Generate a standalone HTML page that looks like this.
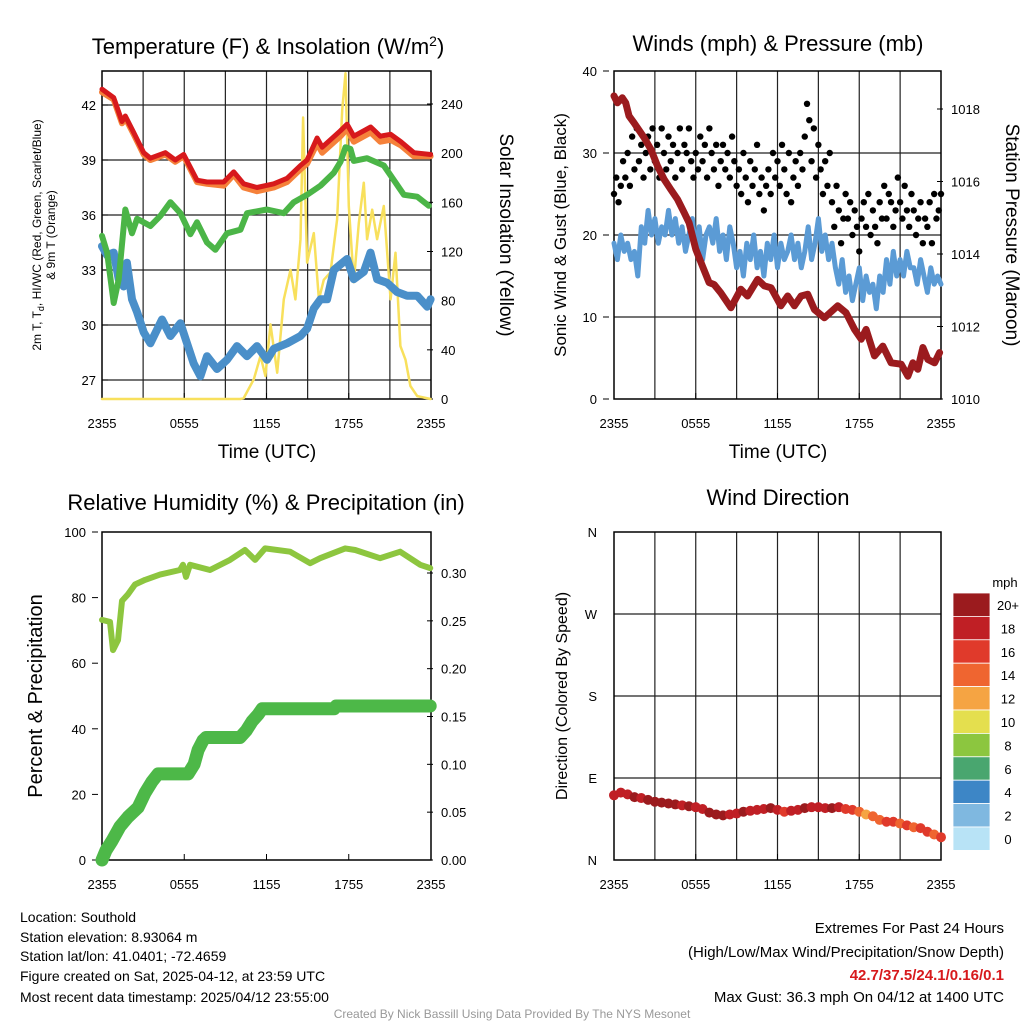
<!DOCTYPE html>
<html><head><meta charset="utf-8"><style>
html,body{margin:0;padding:0;background:#fff;}
svg{display:block;font-family:"Liberation Sans",sans-serif;}
</style></head><body>
<svg id="c" width="1024" height="1024" viewBox="0 0 1024 1024" xmlns="http://www.w3.org/2000/svg">
<g id="g"></g>
<text x="268" y="54" font-size="22" text-anchor="middle">Temperature (F) &amp; Insolation (W/m<tspan dy="-8" font-size="14">2</tspan><tspan dy="8">)</tspan></text>
<text x="778" y="51" font-size="22" text-anchor="middle">Winds (mph) &amp; Pressure (mb)</text>
<text x="266" y="510" font-size="22" text-anchor="middle">Relative Humidity (%) &amp; Precipitation (in)</text>
<text x="778" y="505" font-size="22" text-anchor="middle">Wind Direction</text>
<text transform="translate(41,235) rotate(-90)" font-size="12" text-anchor="middle">2m T, T<tspan dy="3" font-size="9">d</tspan><tspan dy="-3">, HI/WC (Red, Green, Scarlet/Blue)</tspan></text>
<text transform="translate(55,235) rotate(-90)" font-size="12" text-anchor="middle">&amp; 9m T (Orange)</text>
<text transform="translate(500,235) rotate(90)" font-size="19" text-anchor="middle">Solar Insolation (Yellow)</text>
<text x="267" y="458" font-size="19" text-anchor="middle">Time (UTC)</text>
<text x="778" y="458" font-size="19" text-anchor="middle">Time (UTC)</text>
<text transform="translate(566,235) rotate(-90)" font-size="17" text-anchor="middle">Sonic Wind &amp; Gust (Blue, Black)</text>
<text transform="translate(1006,235) rotate(90)" font-size="19" text-anchor="middle">Station Pressure (Maroon)</text>
<text transform="translate(42,696) rotate(-90)" font-size="20" text-anchor="middle">Percent &amp; Precipitation</text>
<text transform="translate(567,696) rotate(-90)" font-size="16" text-anchor="middle">Direction (Colored By Speed)</text>
<g font-size="14">
<text x="20" y="922">Location: Southold</text>
<text x="20" y="942">Station elevation: 8.93064 m</text>
<text x="20" y="961">Station lat/lon: 41.0401; -72.4659</text>
<text x="20" y="981">Figure created on Sat, 2025-04-12, at 23:59 UTC</text>
<text x="20" y="1002">Most recent data timestamp: 2025/04/12 23:55:00</text>
</g>
<g font-size="15" text-anchor="end">
<text x="1004" y="933">Extremes For Past 24 Hours</text>
<text x="1004" y="957">(High/Low/Max Wind/Precipitation/Snow Depth)</text>
<text x="1004" y="980" fill="#d7191c" font-weight="bold">42.7/37.5/24.1/0.16/0.1</text>
<text x="1004" y="1002">Max Gust: 36.3 mph On 04/12 at 1400 UTC</text>
</g>
<text x="512" y="1018" font-size="12" fill="#999" text-anchor="middle">Created By Nick Bassill Using Data Provided By The NYS Mesonet</text>
</svg>
<script>
// ---- Temperature panel data (hours since 2355 UTC) ----
const tempHours=[0,0.85,1.46,1.7,2.31,3.04,3.53,4.62,5.35,5.96,6.93,7.66,8.88,9.61,10.34,11.31,12.53,13.5,14.48,14.96,15.69,16.06,17.4,17.88,18.37,19.6,20.3,21.05,21.8,22.75,23.97];
const tempVals=[42.86,42.4,41.1,41.4,40.5,39.4,39.1,39.4,39.0,39.3,37.9,37.8,37.8,38.35,37.7,37.5,37.7,38.0,38.7,39.0,40.2,39.7,40.6,40.95,40.3,40.8,40.3,40.4,40.0,39.4,39.3];
const temp9mVals=[42.7,42.3,41.0,41.3,40.4,39.3,39.0,39.3,38.9,39.2,37.8,37.7,37.6,38.2,37.5,37.3,37.5,37.8,38.5,38.8,39.9,39.4,40.3,40.7,40.0,40.5,40.0,40.1,39.8,39.2,39.2];
const dewHours=[0,0.37,0.85,1.22,1.7,2.19,2.56,3.53,4.26,4.99,5.72,6.45,6.93,7.66,8.27,9.12,10.1,10.58,12.04,13.26,13.99,14.96,15.94,16.91,17.4,17.76,18.13,18.37,19.34,20.56,21.29,22.02,22.99,23.84];
const dewVals=[34.86,33.95,31.2,32.5,36.3,35.0,35.8,35.4,35.95,36.7,36.1,34.95,35.6,34.5,34.1,35.0,35.2,36.1,36.3,36.1,36.7,37.1,37.6,38.3,38.9,39.7,39.6,38.95,39.1,38.7,37.9,37.1,37.0,36.5];
const wcHours=[0,0.37,0.85,1.22,1.58,1.82,2.19,2.56,3.04,3.53,4.38,4.99,5.72,6.2,6.69,7.18,7.66,8.39,9.12,9.85,10.58,11.31,12.04,12.53,13.5,14.48,14.96,15.45,15.94,16.42,16.91,17.88,18.37,19.1,19.59,20.07,20.8,21.53,22.26,22.99,23.72,23.97];
const wcVals=[34.3,33.8,33.95,32.5,32.1,33.4,31.4,30.7,29.6,29.0,30.3,29.4,30.1,29.0,27.9,27.2,28.3,27.6,28.1,28.85,28.3,28.85,28.1,28.7,29.0,29.4,29.8,30.9,31.4,31.4,33.0,33.6,32.5,32.9,33.95,32.5,32.3,31.8,31.6,31.6,31.0,31.4];
const solarHours=[0,10.1,10.34,11.07,11.56,11.92,12.29,12.78,13.26,13.75,14.11,14.48,14.67,14.96,15.45,15.82,16.18,16.67,17.15,17.52,17.76,18.0,18.37,18.73,19.1,19.34,19.71,20.07,20.56,21.05,21.41,21.77,22.14,22.5,22.99,23.97];
const solarVals=[0,0,0.7,16,35,18.7,60.7,21.4,81,105,81,130,229,111,135,81,97,103,146,235,265,157,95,143,176,130,154,130,157,81,119,43,32,10.6,2.4,0];
// ---- Wind panel data ----
const presHours=[0,0.25,0.61,0.86,1.1,1.47,1.96,2.21,2.7,3.19,3.68,4.17,4.66,5.15,5.51,6.0,6.49,6.98,7.35,7.84,8.58,9.31,9.8,10.54,11.03,11.52,12.25,12.75,13.24,13.73,14.22,14.71,15.44,16.42,17.03,17.65,18.14,18.5,19.12,19.73,20.34,21.08,21.57,21.94,22.3,22.67,23.04,23.53,23.9];
const presVals=[1018.36,1018.17,1018.31,1018.17,1017.81,1017.62,1017.35,1017.21,1016.89,1016.43,1016.06,1015.78,1015.51,1015.14,1014.86,1014.13,1013.67,1013.21,1013.16,1012.93,1012.52,1013.03,1012.84,1013.3,1013.12,1013.07,1012.57,1012.84,1012.57,1012.84,1012.89,1012.47,1012.24,1012.57,1012.38,1011.92,1011.65,1011.92,1011.19,1011.46,1011.0,1010.96,1010.63,1011.0,1010.82,1011.42,1011.09,1011.0,1011.28];
// sonic wind every 15 min
const windVals=[19,17,20,18,19,17,18,15,21,19,23,20,22,19,21,20,23,20,22,19,21,18,20,22,18,21,17,20,21,19,22,18,20,17,21,19,16,18,15,19,17,20,16,18,15,19,17,20,16,19,17,18,20,17,19,16,18,21,17,19,22,18,20,17,19,16,14,17,13,15,12,14,16,12,15,13,14,11,15,13,17,14,18,15,17,15,18,16,16,14,17,15,13,16,14,15,14];
const gustVals=[25,27,24,26,29,27,30,26,32,28,33,29,31,27,30,32,28,33,29,31,27,33,30,28,32,29,31,27,30,33,28,31,30,33,29,27,30,28,32,29,31,27,33,30,28,31,26,29,31,28,30,27,32,29,26,28,25,30,27,24,29,26,28,31,25,27,23,26,28,25,30,27,29,26,31,28,25,30,24,27,29,26,30,28,32,36,34,29,33,27,31,28,25,29,26,30,24,21,26,23,19,22,25,22,24,20,23,21,18,22,24,21,25,20,23,21,19,24,22,26,22,25,24,21,23,27,24,22,26,23,21,25,23,20,22,24,19,22,21,24,19,25,22,23,25];
// ---- RH / precip data ----
const rhHours=[0,0.58,0.8,1.17,1.46,1.9,2.41,3.14,4.23,5.69,5.91,6.13,6.42,7.88,9.34,10.43,11.17,11.9,13.72,15.18,15.91,17.74,18.47,20.29,21.75,23.21,23.94];
const rhVals=[73.2,72.6,64,67,79,81,84,85.4,87,88.4,90,86.3,90,88.4,91.5,94.5,91.5,95,94,90.5,92,95,94.5,92,94,90,89];
const pcpHours=[0,0.29,0.73,1.31,1.9,2.63,3.14,3.65,4.09,6.28,6.72,7.01,7.37,7.59,10.07,10.51,10.95,11.39,11.68,16.93,17.08,23.94];
const pcpVals=[0,0.01,0.02,0.035,0.045,0.055,0.07,0.082,0.09,0.09,0.10,0.115,0.125,0.128,0.128,0.135,0.145,0.152,0.158,0.158,0.161,0.161];
// ---- Wind direction (degrees) and speed (mph) every 30 min ----
const dirVals=[71,74,72,69,68,66,64,63,62,61,60,59,58,56,52,50,49,50,51,53,54,55,56,57,55,53,54,55,57,58,58,57,57,58,56,55,53,50,48,44,42,42,40,38,36,35,31,28,25];
const dirSpeeds=[18,19,18,20,19,21,20,22,20,21,19,20,19,18,20,21,20,19,18,20,19,18,19,20,19,17,18,19,20,18,19,18,20,19,17,16,14,13,15,14,16,17,15,16,15,17,16,15,16];
const cbLabels=["20+","18","16","14","12","10","8","6","4","2","0"];
const cbColors=["#9b1b1e","#c01f25","#e03a2b","#ef6530","#f5a443","#e4df4e","#8cc63f","#49a66f","#3d86c6","#7fb8e0","#b8e3f6"];
const xTickLabels=["2355","0555","1155","1755","2355"];

const NS="http://www.w3.org/2000/svg";
const G=document.getElementById('g');
function mk(tag,attrs,parent){const e=document.createElementNS(NS,tag);for(const k in attrs)e.setAttribute(k,attrs[k]);(parent||G).appendChild(e);return e;}
function xs(x0,x1){return h=>x0+(x1-x0)*h/24;}
function lin(v0,p0,v1,p1){return v=>p0+(v-v0)*(p1-p0)/(v1-v0);}

function frame(name,x0,x1,yT,yB,vgrid,hys){
  for(const y of hys){const l=mk('line',{x1:x0,x2:x1,y1:y,y2:y,stroke:'#222','stroke-width':1.2});
    
    }
  if(vgrid)for(let i=1;i<8;i++){const x=x0+(x1-x0)*i/8;const l=mk('line',{x1:x,x2:x,y1:yT,y2:yB,stroke:'#222','stroke-width':1.2});
    
    }
  const r=mk('rect',{x:x0,y:yT,width:x1-x0,height:yB-yT,fill:'none',stroke:'#000','stroke-width':1.5});
  
  
  xTickLabels.forEach((s,i)=>{const x=x0+(x1-x0)*i/4;
    const t=mk('text',{x:x,y:yB+29,'font-size':13,'text-anchor':'middle'});t.textContent=s;
    
    
    mk('line',{x1:x,x2:x,y1:yB,y2:yB-6,stroke:'#000'});});
}
function yTicks(name,vals,fmt,sc,x,anchor,dir){
  for(const v of vals){const y=sc(v);
    const t=mk('text',{x:x,y:y+5,'font-size':13,'text-anchor':anchor});t.textContent=fmt(v);
    
    
    mk('line',{x1:x-(anchor==='end'?-6:8),x2:x-(anchor==='end'?-6:8)+dir*6,y1:y,y2:y,stroke:'#000'});}
}
function line(name,hours,vals,X,Y,color,w){
  const d=hours.map((h,i)=>(i?'L':'M')+X(h).toFixed(1)+' '+Y(vals[i]).toFixed(1)).join('');
  const p=mk('path',{d:d,fill:'none',stroke:color,'stroke-width':w,'stroke-linejoin':'round','stroke-linecap':'round'});
  
  
}

// Panel 1
{const X=xs(102,431),T=lin(27,380,42,105),S=lin(0,399,240,104);
 frame('temp',102,431,71,399,true,[27,30,33,36,39,42].map(T));
 yTicks('temp-y',[27,30,33,36,39,42],v=>v,T,96,'end',1);
 yTicks('solar-y',[0,40,80,120,160,200,240],v=>v,S,441,'start',-1);
 line('solar-insolation-line',solarHours,solarVals,X,S,'#f8e05c',2.5);
 line('wind-chill-line',wcHours,wcVals,X,T,'#4a8fc9',8);
 line('dewpoint-line',dewHours,dewVals,X,T,'#4bb547',6);
 line('temp-9m-line',tempHours,temp9mVals,X,T,'#f5813a',6);
 line('temp-2m-line',tempHours,tempVals,X,T,'#d7191c',5);
}
// Panel 2
{const X=xs(614,941),W=lin(0,399,40,71),P=lin(1010,399,1018,109);
 frame('wind',614,941,71,399,true,[10,20,30].map(W));
 yTicks('wind-y',[0,10,20,30,40],v=>v,W,597,'end',1);
 yTicks('pressure-y',[1010,1012,1014,1016,1018],v=>v,P,951,'start',-1);
 const windHours=windVals.map((v,i)=>i*24/(windVals.length-1));
 line('wind-speed-line',windHours,windVals,X,W,'#5b9bd5',5);
 gustVals.forEach((v,i)=>{const c=mk('circle',{cx:X(i*24/(gustVals.length-1)),cy:W(v),r:3.2,fill:'#000'});
   
   });
 line('pressure-line',presHours,presVals,X,P,'#9b1b1e',7);
}
// Panel 3
{const X=xs(102,431),R=lin(0,860,100,532),Q=lin(0,860,0.30,573);
 frame('rh',102,431,532,860,false,[]);
 yTicks('rh-y',[0,20,40,60,80,100],v=>v,R,86,'end',1);
 yTicks('precip-y',[0,0.05,0.10,0.15,0.20,0.25,0.30],v=>v.toFixed(2),Q,441,'start',-1);
 line('precip-line',pcpHours,pcpVals,X,Q,'#4db848',13);
 line('rh-line',rhHours,rhVals,X,R,'#8dc63f',6);
}
// Panel 4
{const X=xs(614,941),D=lin(0,860,360,532);
 frame('direction',614,941,532,860,true,[90,180,270].map(D));
 ['N','E','S','W','N'].forEach((s,i)=>{const t=mk('text',{x:597,y:D(i*90)+5,'font-size':13,'text-anchor':'end'});t.textContent=s;
   
   });
 dirVals.forEach((v,i)=>{const sp=dirSpeeds[i];const idx=sp>=20?0:10-Math.floor(sp/2);
   const c=mk('circle',{cx:X(i*24/(dirVals.length-1)),cy:D(v),r:5,fill:cbColors[Math.max(0,Math.min(10,idx))]});
   
   });
 const mt=mk('text',{x:1005,y:587,'font-size':13,'text-anchor':'middle'});mt.textContent='mph';
 
 
 cbLabels.forEach((s,i)=>{const y=593+i*23.4;
   const r=mk('rect',{x:953,y:y,width:37,height:23.4,fill:cbColors[i],stroke:'#fff','stroke-width':0.8});
   
   
   const t=mk('text',{x:1008,y:y+17,'font-size':13,'text-anchor':'middle'});t.textContent=s;
   
   });
}
</script>
</body></html>
